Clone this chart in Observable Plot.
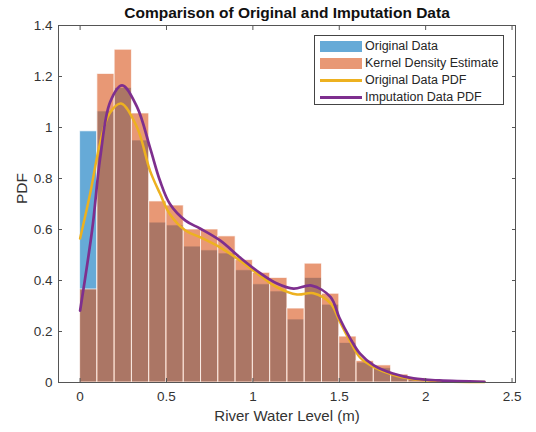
<!DOCTYPE html>
<html>
<head>
<meta charset="utf-8">
<script src="https://cdn.jsdelivr.net/npm/d3@7"></script>
<script src="https://cdn.jsdelivr.net/npm/@observablehq/plot@0.6"></script>
<style>
  html, body { margin: 0; padding: 0; background: #fff; }
  #wrap { position: relative; width: 536px; height: 432px; font-family: "Liberation Sans", Arial, sans-serif; }
  #legend { position: absolute; left: 314px; top: 35px; width: 188px; height: 68px; border: 1px solid #444; background: #fff; box-sizing: content-box; }
  .row { position: absolute; left: 0; height: 17px; width: 100%; }
  .sw { position: absolute; left: 5px; width: 42px; }
  .lab { position: absolute; left: 50px; top: 0; line-height: 17px; font-size: 12.5px; color: #262626; white-space: nowrap; }
</style>
</head>
<body>
<div id="wrap"></div>
<script>
// Histogram bins (left edges, width 0.1)
const binStarts = [0,0.1,0.2,0.3,0.4,0.5,0.6,0.7,0.8,0.9,1.0,1.1,1.2,1.3,1.4,1.5,1.6,1.7,1.8,1.9];
const originalDensity = [0.985,1.063,1.155,0.949,0.627,0.616,0.533,0.518,0.506,0.44,0.385,0.357,0.247,0.41,0.305,0.155,0.078,0.056,0.027,0.012];
const kdeDensity      = [0.365,1.21,1.305,1.055,0.71,0.694,0.60,0.60,0.573,0.48,0.43,0.41,0.29,0.466,0.348,0.18,0.084,0.067,0.031,0.016];

// PDF curves
const origPdfX = [0,0.058,0.116,0.17,0.237,0.33,0.405,0.463,0.52,0.61,0.694,0.81,0.926,1.04,1.14,1.256,1.35,1.45,1.5,1.56,1.62,1.70,1.81,1.93,2.08,2.34];
const origPdfY = [0.565,0.74,0.94,1.055,1.094,1.0,0.83,0.74,0.66,0.596,0.57,0.53,0.478,0.42,0.373,0.345,0.35,0.31,0.243,0.165,0.098,0.06,0.03,0.013,0.005,0.002];
const impPdfX  = [0,0.07,0.116,0.174,0.243,0.33,0.405,0.463,0.52,0.61,0.694,0.81,0.926,1.04,1.14,1.235,1.34,1.45,1.5,1.56,1.62,1.70,1.81,1.93,2.08,2.34];
const impPdfY  = [0.282,0.6,0.88,1.10,1.165,1.08,0.92,0.79,0.70,0.635,0.604,0.557,0.49,0.43,0.388,0.368,0.38,0.335,0.255,0.177,0.113,0.067,0.035,0.016,0.008,0.003];

const xTicks = [0,0.5,1,1.5,2,2.5];
const yTicks = [0,0.2,0.4,0.6,0.8,1,1.2,1.4];

const titleText = "Comparison of Original and Imputation Data";
const xLabel = "River Water Level (m)";
const yLabel = "PDF";
const legendLabels = ["Original Data","Kernel Density Estimate","Original Data PDF","Imputation Data PDF"];

const binWidth = 0.1;
const bins = binStarts.map((x0, i) => ({x0, x1: x0 + binWidth, orig: originalDensity[i], kde: kdeDensity[i]}));
const origPdf = origPdfX.map((x, i) => ({x, y: origPdfY[i]}));
const impPdf = impPdfX.map((x, i) => ({x, y: impPdfY[i]}));

const axisColor = "#555";
const textColor = "#333";

const chart = Plot.plot({
  width: 536,
  height: 432,
  marginLeft: 58,
  marginRight: 21,
  marginTop: 25,
  marginBottom: 50,
  style: {fontFamily: "'Liberation Sans', Arial, sans-serif", background: "#fff"},
  x: {domain: [-0.125, 2.52]},
  y: {domain: [0, 1.4]},
  marks: [
    Plot.rectY(bins, {x1: "x0", x2: "x1", y: "orig", fill: "#0072BD", fillOpacity: 0.6, stroke: "#fff", strokeOpacity: 0.7, strokeWidth: 1}),
    Plot.rectY(bins, {x1: "x0", x2: "x1", y: "kde", fill: "#D95319", fillOpacity: 0.6, stroke: "#fff", strokeOpacity: 0.7, strokeWidth: 1}),
    Plot.line(origPdf, {x: "x", y: "y", stroke: "#EDB120", strokeWidth: 2.5, curve: "catmull-rom"}),
    Plot.line(impPdf, {x: "x", y: "y", stroke: "#7E2F8E", strokeWidth: 2.7, curve: "catmull-rom"}),
    Plot.frame({stroke: axisColor, strokeWidth: 1}),
    // tick labels
    Plot.axisX({ticks: xTicks, tickSize: 0, tickPadding: 9, tickFormat: d => String(d), fontSize: 13.5, color: textColor, label: null}),
    Plot.axisY({ticks: yTicks, tickSize: 0, tickPadding: 6, tickFormat: d => String(d), fontSize: 13.5, color: textColor, label: null}),
    // inward ticks on all sides
    Plot.axisX({ticks: xTicks, anchor: "bottom", tickSize: -4, tickFormat: () => "", color: axisColor, label: null}),
    Plot.axisX({ticks: xTicks, anchor: "top", tickSize: -4, tickFormat: () => "", color: axisColor, label: null}),
    Plot.axisY({ticks: yTicks, anchor: "left", tickSize: -4, tickFormat: () => "", color: axisColor, label: null}),
    Plot.axisY({ticks: yTicks, anchor: "right", tickSize: -4, tickFormat: () => "", color: axisColor, label: null}),
    // title and axis labels
    Plot.text([titleText], {frameAnchor: "top", dy: -12, text: d => d, fontSize: 15.5, fontWeight: "bold", fill: "#111", lineAnchor: "middle"}),
    Plot.text([xLabel], {frameAnchor: "bottom", dy: 34, text: d => d, fontSize: 15, fill: textColor, lineAnchor: "middle"}),
    Plot.text([yLabel], {frameAnchor: "left", dx: -36, text: d => d, fontSize: 15.5, fill: textColor, rotate: -90, lineAnchor: "middle"})
  ]
});

const wrap = document.getElementById("wrap");
wrap.appendChild(chart);

// Legend box inside the axes
const legend = document.createElement("div");
legend.id = "legend";
const swatches = [
  {type: "patch", color: "rgba(0,114,189,0.6)"},
  {type: "patch", color: "rgba(217,83,25,0.6)"},
  {type: "line", color: "#EDB120"},
  {type: "line", color: "#7E2F8E"}
];
legendLabels.forEach((name, i) => {
  const row = document.createElement("div");
  row.className = "row";
  row.style.top = (2 + i * 17) + "px";
  const sw = document.createElement("div");
  sw.className = "sw";
  if (swatches[i].type === "patch") {
    sw.style.top = "3px"; sw.style.height = "11px";
  } else {
    sw.style.top = "7px"; sw.style.height = "2.5px";
  }
  sw.style.background = swatches[i].color;
  const lab = document.createElement("div");
  lab.className = "lab";
  lab.textContent = name;
  row.appendChild(sw);
  row.appendChild(lab);
  legend.appendChild(row);
});
wrap.appendChild(legend);
</script>
</body>
</html>
